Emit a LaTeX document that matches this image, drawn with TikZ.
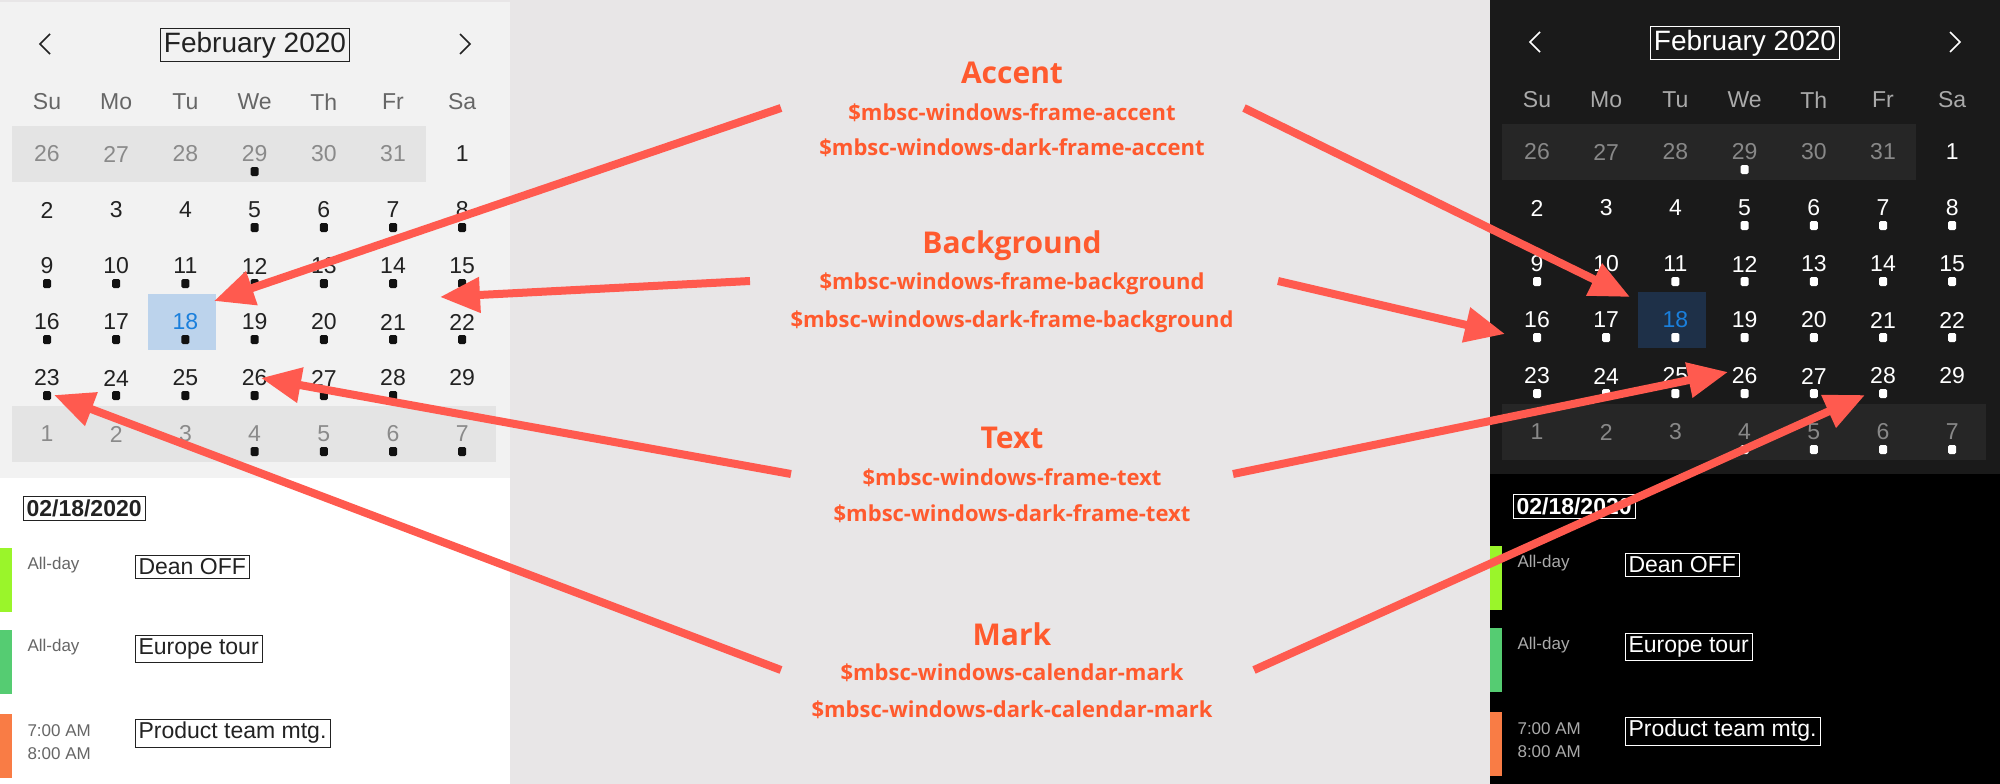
\documentclass[tikz,border=0pt]{standalone}
\usepackage{fontspec}
\setmainfont{Liberation Sans}
\newfontfamily\labfont{Open Sans}
\usetikzlibrary{arrows.meta}
\definecolor{outerbg}{HTML}{E8E6E7}
\definecolor{accent}{HTML}{FF5A2E}
\definecolor{arrowc}{HTML}{FF5A4F}
\definecolor{lightbg}{HTML}{F2F2F2}
\definecolor{darkbg}{HTML}{1A1A1A}
\newcommand\fs[1]{\fontsize{#1}{#1}\selectfont}
\newcommand\drawcal[1]{%
  \fill[calRow] (12,126) rectangle (426,182);
  \fill[calRow] (12,406) rectangle (496,462);
  \fill[calSel] (148,294) rectangle (216,350);
  \coordinate (#1prev) at (45,44);
  \coordinate (#1next) at (465,44);
  \draw[calT,line width=1.6pt] ([shift={(5,-10)}]#1prev) -- ([shift={(-5,0)}]#1prev) -- ([shift={(5,10)}]#1prev);
  \draw[calT,line width=1.6pt] ([shift={(-5,-10)}]#1next) -- ([shift={(5,0)}]#1next) -- ([shift={(-5,10)}]#1next);
  \node[calT,font=\fs{28}] (#1title) at (255,45) {February 2020};
  \foreach \d [count=\i from 0] in {Su,Mo,Tu,We,Th,Fr,Sa}
    \node[calH,font=\fs{23}] (#1wd\i) at (47+69.2*\i,102) {\d};
  \foreach \n [count=\k from 0] in {26,27,28,29,30,31,1,2,3,4,5,6,7,8,9,10,11,12,13,14,15,16,17,18,19,20,21,22,23,24,25,26,27,28,29,1,2,3,4,5,6,7}{
    \pgfmathtruncatemacro\mycol{mod(\k,7)}
    \pgfmathtruncatemacro\myrow{div(\k,7)}
    \pgfmathsetmacro\cx{47+69.2*\mycol}
    \pgfmathsetmacro\cy{154+56*\myrow}
    \pgfmathtruncatemacro\muted{(\k<6)||(\k>34)}
    \pgfmathtruncatemacro\hasdot{(\k==3)||(\k>9 && \k<34)||(\k>37)}
    \ifnum\k=23 \colorlet{cc}{selT}\else\ifnum\muted=1 \colorlet{cc}{calM}\else\colorlet{cc}{calT}\fi\fi
    \node[text=cc,font=\fs{23}] (#1d\k) at (\cx,\cy) {\n};
    \ifnum\hasdot=1 \fill[calD,rounded corners=1.5pt] (\cx-4,\cy+13) rectangle (\cx+4,\cy+22);\fi
  }
  \node[calT,font=\bfseries\fs{23},anchor=west] (#1date) at (23,508) {02/18/2020};
  \fill[ev1] (0,548) rectangle (12,612);
  \fill[ev2] (0,630) rectangle (12,694);
  \fill[ev3] (0,714) rectangle (12,778);
  \node[calS,font=\fs{17},anchor=west] (#1t1) at (24,565) {All-day};
  \node[calS,font=\fs{17},anchor=west] (#1t2) at (24,647) {All-day};
  \node[calS,font=\fs{17},anchor=west] (#1t3) at (24,731) {7:00 AM};
  \node[calS,font=\fs{17},anchor=west] (#1t4) at (24,754) {8:00 AM};
  \node[calT,font=\fs{23},anchor=west] (#1e1) at (135,567) {Dean OFF};
  \node[calT,font=\fs{23},anchor=west] (#1e2) at (135,649) {Europe tour};
  \node[calT,font=\fs{23},anchor=west] (#1e3) at (135,733) {Product team mtg.};
}
\begin{document}
\begin{tikzpicture}[x=1pt,y=-1pt,
  calT/.style={text=calT,draw=calT},calH/.style={text=calH},calS/.style={text=calS},
  lbl/.style={text=accent,font=\labfont\bfseries\fs{22}},
  ttl/.style={text=accent,font=\labfont\bfseries\fs{30}},
  arr/.style={draw=arrowc,line width=8pt,-{Triangle[length=40pt,width=34pt]}}]
\useasboundingbox (0,0) rectangle (2000,784);
\fill[outerbg] (0,0) rectangle (2000,784);
\definecolor{ev1}{HTML}{9AF52A}\definecolor{ev2}{HTML}{55CC72}\definecolor{ev3}{HTML}{F97C45}
% light panel
\begin{scope}
\fill[lightbg] (0,2) rectangle (510,478);
\fill[white] (0,478) rectangle (510,784);
\definecolor{calT}{HTML}{222222}\definecolor{calH}{HTML}{666666}\definecolor{calM}{HTML}{8A8A8A}
\definecolor{calS}{HTML}{666666}\definecolor{calRow}{HTML}{E4E4E4}\definecolor{calSel}{HTML}{BCD3EC}
\definecolor{selT}{HTML}{1A7FDC}\definecolor{calD}{HTML}{111111}
\drawcal{L}
\end{scope}
% dark panel
\begin{scope}[shift={(1490,-2)}]
\fill[darkbg] (0,2) rectangle (510,476);
\fill[black] (0,476) rectangle (510,786);
\definecolor{calT}{HTML}{FFFFFF}\definecolor{calH}{HTML}{AAAAAA}\definecolor{calM}{HTML}{888888}
\definecolor{calS}{HTML}{AAAAAA}\definecolor{calRow}{HTML}{262626}\definecolor{calSel}{HTML}{1E3048}
\definecolor{selT}{HTML}{1A7FDC}\definecolor{calD}{HTML}{FFFFFF}
\drawcal{R}
\end{scope}
% labels
\node[ttl] (acc) at (1012,73) {Accent};
\node[lbl] (acc1) at (1012,113) {\$mbsc-windows-frame-accent};
\node[lbl] (acc2) at (1012,148) {\$mbsc-windows-dark-frame-accent};
\node[ttl] (bg) at (1012,246) {Background};
\node[lbl] (bg1) at (1012,284) {\$mbsc-windows-frame-background};
\node[lbl] (bg2) at (1012,322) {\$mbsc-windows-dark-frame-background};
\node[ttl] (tx) at (1012,438) {Text};
\node[lbl] (tx1) at (1012,478) {\$mbsc-windows-frame-text};
\node[lbl] (tx2) at (1012,514) {\$mbsc-windows-dark-frame-text};
\node[ttl] (mk) at (1012,634) {Mark};
\node[lbl] (mk1) at (1012,673) {\$mbsc-windows-calendar-mark};
\node[lbl] (mk2) at (1012,710) {\$mbsc-windows-dark-calendar-mark};
% arrow endpoints
\coordinate (a1s) at (781,108); \coordinate (a1e) at (214,301);
\coordinate (a2s) at (750,281); \coordinate (a2e) at (440,297);
\coordinate (a3s) at (791,474); \coordinate (a3e) at (261,378);
\coordinate (a4s) at (781,670); \coordinate (a4e) at (54,395);
\coordinate (a5s) at (1244,108); \coordinate (a5e) at (1630,297);
\coordinate (a6s) at (1278,281); \coordinate (a6e) at (1505,334);
\coordinate (a7s) at (1233,474); \coordinate (a7e) at (1728,372);
\coordinate (a8s) at (1254,670); \coordinate (a8e) at (1865,395);
\foreach \i in {1,...,8} \draw[arr] (a\i s) -- (a\i e);
\end{tikzpicture}
\end{document}
